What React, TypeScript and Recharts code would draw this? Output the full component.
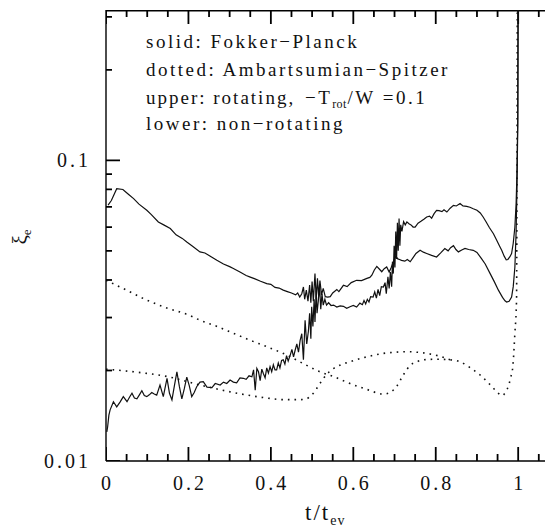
import React from "react";
import { LineChart, Line, XAxis, YAxis } from "recharts";

// ---- data: [t/t_ev, xi_e] ----
const fpRotating: [number, number][] = [
  [0.005,0.071],[0.013,0.0735],[0.026,0.0805],[0.041,0.080],[0.055,0.077],[0.067,0.0746],[0.08,0.0715],[0.099,0.0682],[0.11,0.066],[0.127,0.0624],[0.14,0.061],[0.156,0.0593],[0.17,0.0565],[0.185,0.055],[0.196,0.0535],[0.21,0.0518],[0.228,0.0496],[0.24,0.0492],[0.255,0.0478],[0.269,0.0465],[0.285,0.0452],[0.3,0.0443],[0.309,0.0437],[0.325,0.0425],[0.34,0.0414],[0.35,0.0409],[0.36,0.0404],[0.375,0.0396],[0.39,0.0389],[0.4,0.0387],[0.41,0.0378],[0.42,0.0376],[0.43,0.037],[0.44,0.0366],[0.45,0.0362],[0.46,0.0357],[0.465,0.0362],[0.47,0.0351],[0.475,0.036],[0.479,0.0379],[0.482,0.0345],[0.486,0.037],[0.49,0.034],[0.494,0.0385],[0.497,0.0336],[0.5,0.0395],[0.503,0.034],[0.507,0.042],[0.51,0.0345],[0.513,0.0405],[0.516,0.0352],[0.519,0.0398],[0.523,0.0357],[0.527,0.0375],[0.532,0.0352],[0.538,0.0351],[0.544,0.0352],[0.55,0.0362],[0.56,0.0372],[0.565,0.0366],[0.576,0.0384],[0.585,0.038],[0.595,0.0392],[0.608,0.0399],[0.62,0.0398],[0.633,0.0405],[0.64,0.0408],[0.645,0.0415],[0.651,0.0432],[0.657,0.0444],[0.663,0.0435],[0.669,0.0426],[0.675,0.0436],[0.681,0.0442],[0.687,0.0425],[0.692,0.044],[0.697,0.046],[0.703,0.048],[0.708,0.047],[0.712,0.0468],[0.717,0.0465],[0.725,0.0462],[0.731,0.0468],[0.738,0.046],[0.745,0.0475],[0.752,0.049],[0.762,0.0502],[0.77,0.0495],[0.778,0.049],[0.79,0.0483],[0.802,0.0477],[0.812,0.0492],[0.822,0.0509],[0.83,0.05],[0.836,0.0512],[0.843,0.052],[0.849,0.0505],[0.855,0.0496],[0.863,0.0503],[0.871,0.0509],[0.88,0.0505],[0.891,0.0502],[0.9,0.0494],[0.911,0.0471],[0.92,0.0452],[0.932,0.042],[0.942,0.0395],[0.952,0.037],[0.962,0.035],[0.968,0.0341],[0.972,0.0338],[0.978,0.034],[0.984,0.0351],[0.988,0.038],[0.992,0.0442],[0.995,0.058],[0.997,0.08],[0.999,0.13],[1.0,0.4]
];

const fpNonRotating: [number, number][] = [
  [0.002,0.0125],[0.004,0.013],[0.007,0.0142],[0.01,0.0148],[0.018,0.01575],[0.026,0.01514],[0.034,0.0157],[0.042,0.01637],[0.051,0.01575],[0.057,0.0163],[0.063,0.0168],[0.069,0.0162],[0.075,0.0161],[0.081,0.0166],[0.087,0.01714],[0.093,0.0165],[0.099,0.01637],[0.105,0.0166],[0.111,0.0169],[0.117,0.0167],[0.123,0.01656],[0.131,0.0179],[0.139,0.01637],[0.148,0.01884],[0.154,0.0168],[0.16,0.01596],[0.166,0.0178],[0.172,0.0198],[0.178,0.0177],[0.184,0.0161],[0.19,0.0174],[0.196,0.019],[0.202,0.0178],[0.208,0.01637],[0.214,0.0169],[0.22,0.01766],[0.228,0.0183],[0.236,0.01836],[0.245,0.0176],[0.257,0.01755],[0.265,0.0181],[0.277,0.0179],[0.285,0.0183],[0.293,0.0181],[0.301,0.01858],[0.309,0.0183],[0.317,0.0182],[0.325,0.0189],[0.333,0.01884],[0.34,0.0187],[0.347,0.0192],[0.354,0.01906],[0.358,0.0201],[0.362,0.0172],[0.366,0.0203],[0.37,0.0198],[0.374,0.0185],[0.378,0.0202],[0.382,0.0195],[0.386,0.0189],[0.39,0.0204],[0.394,0.0196],[0.398,0.0206],[0.402,0.0198],[0.406,0.0209],[0.41,0.0201],[0.414,0.0201],[0.418,0.0212],[0.422,0.0204],[0.426,0.0216],[0.43,0.0217],[0.434,0.021],[0.438,0.0224],[0.442,0.0215],[0.447,0.0225],[0.451,0.0235],[0.455,0.0222],[0.459,0.0234],[0.463,0.0245],[0.467,0.023],[0.471,0.0252],[0.475,0.0265],[0.479,0.0217],[0.483,0.0294],[0.487,0.0245],[0.491,0.027],[0.494,0.031],[0.497,0.0255],[0.499,0.0326],[0.502,0.028],[0.505,0.0345],[0.507,0.029],[0.51,0.037],[0.512,0.031],[0.515,0.034],[0.518,0.0385],[0.521,0.032],[0.524,0.036],[0.527,0.033],[0.531,0.0345],[0.535,0.033],[0.54,0.0336],[0.546,0.0329],[0.552,0.033],[0.56,0.0325],[0.568,0.0328],[0.576,0.0327],[0.584,0.0322],[0.592,0.0326],[0.6,0.0329],[0.608,0.0325],[0.616,0.0335],[0.622,0.0331],[0.626,0.0342],[0.63,0.0333],[0.634,0.0345],[0.638,0.0338],[0.642,0.0352],[0.648,0.0351],[0.652,0.0365],[0.656,0.0348],[0.66,0.0372],[0.664,0.0355],[0.668,0.038],[0.673,0.0379],[0.677,0.0392],[0.68,0.036],[0.684,0.041],[0.687,0.0375],[0.69,0.0425],[0.693,0.038],[0.695,0.046],[0.697,0.042],[0.699,0.052],[0.701,0.044],[0.703,0.058],[0.705,0.047],[0.707,0.062],[0.709,0.05],[0.711,0.064],[0.713,0.052],[0.715,0.061],[0.718,0.058],[0.722,0.0625],[0.726,0.061],[0.73,0.0624],[0.735,0.0615],[0.74,0.061],[0.745,0.06],[0.75,0.06],[0.757,0.0618],[0.765,0.0628],[0.772,0.0638],[0.778,0.0648],[0.785,0.0652],[0.79,0.0642],[0.796,0.0665],[0.802,0.0682],[0.808,0.068],[0.815,0.0675],[0.82,0.0685],[0.827,0.0673],[0.835,0.0693],[0.843,0.0708],[0.85,0.0705],[0.859,0.0718],[0.866,0.0705],[0.875,0.0703],[0.883,0.0698],[0.891,0.069],[0.9,0.0682],[0.908,0.0668],[0.915,0.0648],[0.922,0.0625],[0.93,0.0598],[0.94,0.057],[0.947,0.0545],[0.955,0.0518],[0.96,0.0502],[0.966,0.048],[0.971,0.0467],[0.975,0.0468],[0.98,0.0478],[0.984,0.049],[0.988,0.053],[0.992,0.06],[0.995,0.072],[0.997,0.09],[0.999,0.14],[1.0,0.4]
];

const asRotating: [number, number][] = [
  [0,0.0399],[0.05,0.037],[0.099,0.0343],[0.15,0.0322],[0.2,0.0306],[0.228,0.0294],[0.27,0.028],[0.309,0.0266],[0.35,0.0252],[0.39,0.024],[0.439,0.0225],[0.487,0.0208],[0.519,0.0198],[0.552,0.0191],[0.592,0.0181],[0.633,0.0173],[0.673,0.0167],[0.689,0.0169],[0.705,0.0177],[0.721,0.0193],[0.738,0.0208],[0.755,0.0214],[0.77,0.0217],[0.802,0.0218],[0.835,0.0217],[0.859,0.0214],[0.875,0.0208],[0.891,0.0201],[0.908,0.0193],[0.924,0.0184],[0.936,0.0177],[0.948,0.017],[0.961,0.0165],[0.97,0.017],[0.976,0.0177],[0.982,0.019],[0.987,0.0206],[0.992,0.0266],[0.996,0.0343],[0.997,0.08],[0.998,0.4]
];

const asNonRotating: [number, number][] = [
  [0,0.0202],[0.067,0.0198],[0.148,0.0191],[0.228,0.0179],[0.309,0.0169],[0.39,0.0162],[0.43,0.016],[0.455,0.016],[0.471,0.016],[0.487,0.0161],[0.495,0.0164],[0.503,0.0168],[0.511,0.0174],[0.519,0.0181],[0.527,0.0188],[0.54,0.0197],[0.552,0.0203],[0.57,0.0209],[0.592,0.0214],[0.633,0.0222],[0.673,0.0228],[0.7,0.023],[0.73,0.0231],[0.755,0.023],[0.778,0.0228],[0.81,0.0223],[0.835,0.0217]
];

const xMajorTicks = [0, 0.2, 0.4, 0.6, 0.8, 1];
const xTickLabels = ["0", "0.2", "0.4", "0.6", "0.8", "1"];
const xMinorTicks = [0.05,0.1,0.15,0.25,0.3,0.35,0.45,0.5,0.55,0.65,0.7,0.75,0.85,0.9,0.95,1.05];
const yMajorTicks = [0.01, 0.1];
const yTickLabels = ["0.01", "0.1"];
const yMinorTicks = [0.02,0.03,0.04,0.05,0.06,0.07,0.08,0.09,0.2,0.3];

const X_MIN = 0, X_MAX = 1.1;
const Y_MIN = 0.01, Y_MAX = 0.3162;

const toRows = (a: [number, number][]) => a.map(([t, xi]) => ({ t, xi }));

const INK = "#111";
const FONT = "'Liberation Serif', 'Times New Roman', serif";

// converts tick-mark lengths (px) into axis units
const PX_PER_X = 412.4;
const PX_PER_DECADE = 301;
const xLen = (px: number) => px / PX_PER_X;
const yFac = (px: number) => Math.pow(10, px / PX_PER_DECADE);

const XLabelTick = (props: any) => {
  const x = Number(props.x);
  const y = Number(props.y);
  const i = xMajorTicks.findIndex((m) => Math.abs(m - props.payload.value) < 1e-9);
  if (i < 0) return <g />;
  return (
    <text x={x + 1.5} y={y + 22} textAnchor="middle" dominantBaseline="central"
      fontFamily={FONT} fontSize={20} letterSpacing={3} fill={INK}>
      {xTickLabels[i]}
    </text>
  );
};

const YLabelTick = (props: any) => {
  const x = Number(props.x);
  const y = Number(props.y);
  const i = yMajorTicks.findIndex((m) => Math.abs(m - props.payload.value) < 1e-12);
  if (i < 0) return <g />;
  return (
    <text x={x - 15} y={y} textAnchor="end" dominantBaseline="central"
      fontFamily={FONT} fontSize={20} letterSpacing={3} fill={INK}>
      {yTickLabels[i]}
    </text>
  );
};

export default function App() {
  const W = 560;
  const H = 519;
  const marks: { id: string; rows: { t: number; xi: number }[] }[] = [];
  const xTickMarks = [
    ...xMajorTicks.map((v) => ({ v, len: 14 })),
    ...xMinorTicks.map((v) => ({ v, len: 7 })),
  ];
  const yTickMarks = [
    ...yMajorTicks.map((v) => ({ v, len: 14 })),
    ...yMinorTicks.map((v) => ({ v, len: 6 })),
  ];
  xTickMarks.forEach(({ v, len }) => {
    marks.push({ id: `xb${v}`, rows: [{ t: v, xi: Y_MIN }, { t: v, xi: Y_MIN * yFac(len) }] });
    marks.push({ id: `xt${v}`, rows: [{ t: v, xi: Y_MAX }, { t: v, xi: Y_MAX / yFac(len) }] });
  });
  yTickMarks.forEach(({ v, len }) => {
    marks.push({ id: `yl${v}`, rows: [{ t: X_MIN, xi: v }, { t: X_MIN + xLen(len), xi: v }] });
    marks.push({ id: `yr${v}`, rows: [{ t: X_MAX, xi: v }, { t: X_MAX - xLen(len), xi: v }] });
  });
  const frameTop = [{ t: X_MIN, xi: Y_MAX }, { t: X_MAX, xi: Y_MAX }];

  return (
    <div style={{ position: "relative", width: 545, height: H, overflow: "hidden", background: "#fff" }}>
      <LineChart width={W} height={H} margin={{ top: 2, right: 0, bottom: 0, left: 0 }}>
        <XAxis xAxisId="b" type="number" dataKey="t" domain={[X_MIN, X_MAX]} allowDataOverflow
          orientation="bottom" height={66} ticks={xMajorTicks} interval={0}
          tickSize={0} tickMargin={0} tickLine={false} axisLine={{ stroke: "#000", strokeWidth: 1.4 }}
          tick={XLabelTick} />
        <YAxis yAxisId="l" type="number" scale="log" domain={[Y_MIN, Y_MAX]} allowDataOverflow
          orientation="left" width={98} ticks={yMajorTicks} interval={0}
          tickSize={0} tickMargin={0} tickLine={false} axisLine={{ stroke: "#000", strokeWidth: 1.4 }}
          tick={YLabelTick} />
        <YAxis yAxisId="r" type="number" scale="log" domain={[Y_MIN, Y_MAX]} allowDataOverflow
          orientation="right" width={8.6} tick={false} tickLine={false} axisLine={false} />

        <Line xAxisId="b" yAxisId="l" data={frameTop} dataKey="xi" type="linear"
          stroke="#000" strokeWidth={3.2} dot={false} isAnimationActive={false} legendType="none" />
        {marks.map((m) => (
          <Line key={m.id} xAxisId="b" yAxisId="l" data={m.rows} dataKey="xi" type="linear"
            stroke="#000" strokeWidth={1.8} dot={false} isAnimationActive={false} legendType="none" />
        ))}

        <Line xAxisId="b" yAxisId="l" data={toRows(fpRotating)} dataKey="xi" type="linear"
          stroke={INK} strokeWidth={1.2} dot={false} isAnimationActive={false} />
        <Line xAxisId="b" yAxisId="l" data={toRows(fpNonRotating)} dataKey="xi" type="linear"
          stroke={INK} strokeWidth={1.2} dot={false} isAnimationActive={false} />
        <Line xAxisId="b" yAxisId="l" data={toRows(asRotating)} dataKey="xi" type="monotone"
          stroke={INK} strokeWidth={1.6} strokeDasharray="1.6 5" dot={false} isAnimationActive={false} />
        <Line xAxisId="b" yAxisId="l" data={toRows(asNonRotating)} dataKey="xi" type="monotone"
          stroke={INK} strokeWidth={1.6} strokeDasharray="1.6 5" dot={false} isAnimationActive={false} />
      </LineChart>
      <svg width={545} height={H} style={{ position: "absolute", left: 0, top: 0, pointerEvents: "none" }}
        fontFamily={FONT} fill={INK}>
        <g fontSize={19} letterSpacing={2.5}>
          <text x={138} y={40}>solid: Fokker−Planck</text>
          <text x={138} y={68}>dotted: Ambartsumian−Spitzer</text>
          <text x={138} y={96}>
            <tspan letterSpacing={2}>upper: rotating,</tspan>
            <tspan x={297}>−T</tspan>
            <tspan dy={4} fontSize={12} letterSpacing={0.3}>rot</tspan>
            <tspan dy={-4} dx={1}>/W =0.1</tspan>
          </text>
          <text x={138} y={122}>lower: non−rotating</text>
        </g>
        <text x={297} y={512} fontSize={23} letterSpacing={2}>
          t/t<tspan fontSize={14} dy={5} letterSpacing={1}>ev</tspan>
        </text>
        <text transform="translate(19,229) rotate(-90)" textAnchor="middle" fontSize={21}>
          ξ<tspan fontSize={13} dy={4}>e</tspan>
        </text>
      </svg>
    </div>
  );
}
